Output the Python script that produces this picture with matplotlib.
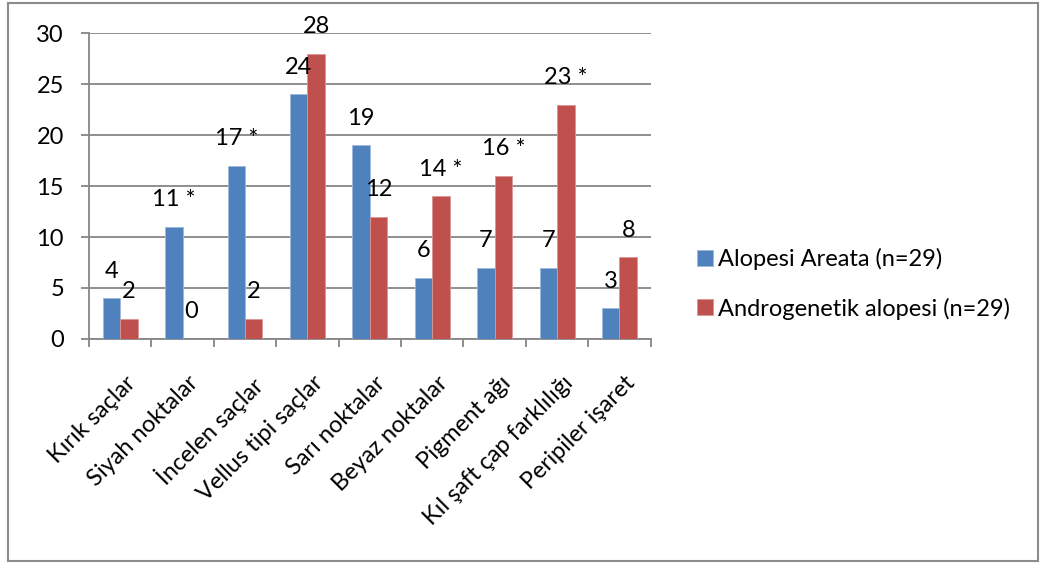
import numpy as np
import matplotlib.pyplot as plt
from matplotlib.patches import Rectangle

categories = ['Kırık saçlar', 'Siyah noktalar', 'İncelen saçlar', 'Vellus tipi saçlar',
              'Sarı noktalar', 'Beyaz noktalar', 'Pigment ağı', 'Kıl şaft çap farklılığı',
              'Peripiler işaret']
alopesi_areata = [4, 11, 17, 24, 19, 6, 7, 7, 3]
androgenetik = [2, 0, 2, 28, 12, 14, 16, 23, 8]
# '*' marks the significant one in each pair
areata_sig = [False, True, True, False, False, False, False, False, False]
andro_sig = [False, False, False, False, False, True, True, True, False]

plt.rcParams['font.family'] = ['Lato', 'DejaVu Sans']
grid_col = '#868686'
blue = '#4F81BD'
red = '#C0504D'
fs = 17

fig = plt.figure(figsize=(10.48, 5.63), dpi=100)
ax = fig.add_axes([0.0849, 0.398, 0.536, 0.543])

x = np.arange(len(categories))
w = 0.28
b1 = ax.bar(x - w/2, alopesi_areata, w, color=blue, edgecolor='#9DB8DA', linewidth=0.6,
            label='Alopesi Areata (n=29)', zorder=3)
b2 = ax.bar(x + w/2, androgenetik, w, color=red, edgecolor='#D99694', linewidth=0.6,
            label='Androgenetik alopesi (n=29)', zorder=3)

for bars, vals, sig in [(b1, alopesi_areata, areata_sig), (b2, androgenetik, andro_sig)]:
    for r, v, s in zip(bars, vals, sig):
        txt = f'{v} *' if s else f'{v}'
        ax.annotate(txt, (r.get_x() + r.get_width()/2, v), xytext=(0, 19.5),
                    textcoords='offset points', ha='center', va='center', fontsize=fs)

ax.set_xlim(-0.5, len(categories) - 0.5)
ax.set_ylim(0, 30)
ax.set_yticks(range(0, 31, 5))
ax.yaxis.grid(True, color=grid_col, linewidth=1.3, zorder=0)
ax.set_axisbelow(True)

ax.set_xticks(x + 0.08)
ax.set_xticklabels(categories, rotation=45, ha='right', rotation_mode='anchor', fontsize=fs)
ax.tick_params(axis='x', which='major', length=0, pad=24)
ax.set_xticks(np.arange(-0.5, len(categories), 1), minor=True)
ax.tick_params(axis='x', which='minor', length=6, width=1.3, color=grid_col)
ax.tick_params(axis='y', length=6, width=1.3, color=grid_col, pad=12, labelsize=fs)

for s in ['top', 'right']:
    ax.spines[s].set_visible(False)
for s in ['left', 'bottom']:
    ax.spines[s].set_color(grid_col)
    ax.spines[s].set_linewidth(1.3)

ax.legend(loc='center left', bbox_to_anchor=(1.045, 0.18), frameon=False, fontsize=fs,
          handlelength=0.65, handleheight=0.65, handletextpad=0.25, labelspacing=1.15)

fig.patches.append(Rectangle((0.008, 0.004), 0.982, 0.99, transform=fig.transFigure,
                             fill=False, edgecolor='#8c8c8c', linewidth=1.5))

plt.savefig('out.png')
plt.close()
